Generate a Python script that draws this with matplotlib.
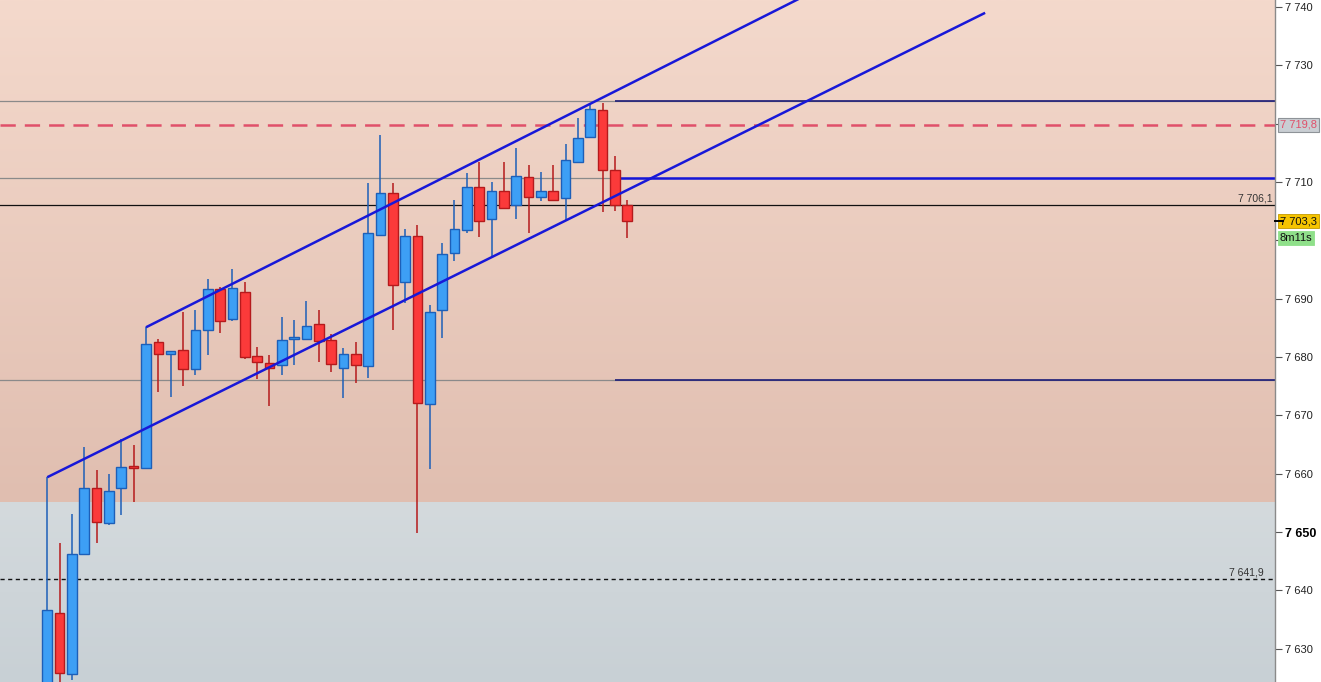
import matplotlib
matplotlib.use("Agg")
import matplotlib.pyplot as plt
import numpy as np
from matplotlib.colors import LinearSegmentedColormap

plt.rcParams['font.family'] = ['Liberation Sans', 'DejaVu Sans']
plt.rcParams['lines.scale_dashes'] = False

# ---- data (OHLC per bar) ----
opens  = [7622.0, 7636.2, 7625.7, 7646.2, 7657.6, 7651.5, 7657.5, 7661.4, 7660.9, 7682.5,
          7680.6, 7681.2, 7678.0, 7684.6, 7691.7, 7686.5, 7691.2, 7680.1, 7678.9, 7678.6,
          7683.1, 7683.1, 7685.7, 7683.0, 7678.2, 7680.6, 7678.5, 7701.0, 7708.2, 7692.9,
          7700.7, 7672.0, 7688.0, 7697.9, 7701.7, 7709.2, 7703.7, 7708.4, 7706.0, 7710.9,
          7707.5, 7708.5, 7707.2, 7713.5, 7717.8, 7722.4, 7712.1, 7706.1]
highs  = [7659.4, 7648.1, 7653.1, 7664.6, 7660.7, 7660.0, 7666.0, 7665.0, 7685.1, 7683.1,
          7681.1, 7687.7, 7688.1, 7693.4, 7692.0, 7695.1, 7692.8, 7681.7, 7680.3, 7686.9,
          7686.3, 7689.6, 7688.0, 7684.0, 7681.6, 7682.5, 7709.8, 7718.0, 7709.9, 7701.9,
          7702.7, 7689.0, 7699.5, 7707.0, 7711.5, 7713.5, 7710.0, 7713.4, 7715.8, 7713.0,
          7711.7, 7713.0, 7716.6, 7720.9, 7723.6, 7723.6, 7714.5, 7707.0]
lows   = [7619.0, 7620.0, 7624.6, 7646.2, 7648.2, 7651.2, 7653.0, 7655.2, 7660.9, 7674.0,
          7673.2, 7675.1, 7676.9, 7680.4, 7684.1, 7686.1, 7679.7, 7676.3, 7671.6, 7676.9,
          7678.7, 7683.1, 7679.2, 7677.4, 7672.9, 7675.6, 7676.4, 7701.0, 7684.6, 7689.3,
          7649.8, 7660.8, 7683.3, 7696.5, 7701.3, 7700.6, 7696.9, 7705.5, 7703.7, 7701.3,
          7706.8, 7706.8, 7703.4, 7713.5, 7717.8, 7704.9, 7705.1, 7700.4]
closes = [7636.6, 7625.8, 7646.2, 7657.6, 7651.7, 7657.1, 7661.2, 7661.0, 7682.3, 7680.6,
          7681.1, 7678.0, 7684.6, 7691.6, 7686.1, 7691.9, 7680.0, 7679.1, 7678.2, 7683.0,
          7683.4, 7685.4, 7682.8, 7678.8, 7680.6, 7678.6, 7701.2, 7708.2, 7692.4, 7700.7,
          7672.2, 7687.8, 7697.7, 7702.0, 7709.2, 7703.4, 7708.5, 7705.5, 7711.1, 7707.5,
          7708.4, 7706.9, 7713.7, 7717.6, 7722.6, 7712.1, 7706.1, 7703.3]

# channel trend lines (bar index, price)
channel_lower = [(0, 7659.4), (76, 7739.0)]
channel_upper = [(8, 7685.1), (61, 7741.5)]

# horizontal levels
gray_levels = [7723.9, 7710.7, 7676.0]
navy_levels = [7723.9, 7676.0]
blue_level = 7710.7
seg_start = 46
red_dash_level = 7719.8
prev_close_level = 7706.1
dotted_level = 7641.9
zone_boundary = 7655.0
last_price = 7703.3
timer_text = "8m11s"

yticks = list(range(7630, 7741, 10))
hidden_tick_labels = [7720, 7700]   # covered by the price boxes

def fmt(v, dec=False):
    if dec:
        s = f"{v:.1f}"
        ip, fp = s.split('.')
        ip = int(ip)
        return f"{ip // 1000} {ip % 1000:03d},{fp}"
    ip = int(round(v))
    return f"{ip // 1000} {ip % 1000:03d}"

# ---- figure ----
W, H = 1321, 682
fig = plt.figure(figsize=(W / 100, H / 100), dpi=100)
fig.patch.set_facecolor('white')
ax = fig.add_axes([0, 0, 1275 / W, 1])

xmin, xmax = -3.83, 99.49
ymin, ymax = 7624.3, 7741.2
ax.set_xlim(xmin, xmax)
ax.set_ylim(ymin, ymax)

# backgrounds (gradients)
peach = LinearSegmentedColormap.from_list('p', ['#e0beb0', '#f4d9cc'])
grayc = LinearSegmentedColormap.from_list('g', ['#c8d0d5', '#d4dadd'])
grad = np.linspace(0, 1, 256).reshape(-1, 1)
ax.imshow(grad, cmap=peach, origin='lower', aspect='auto',
          extent=[xmin, xmax, zone_boundary, ymax], zorder=0)
ax.imshow(grad, cmap=grayc, origin='lower', aspect='auto',
          extent=[xmin, xmax, ymin, zone_boundary], zorder=0)

# horizontal lines
for lv in gray_levels:
    ax.axhline(lv, color='#8a8a8a', lw=0.9, zorder=1)
ax.axhline(prev_close_level, color='#111111', lw=0.9, zorder=1)
ax.axhline(dotted_level, color='#111111', lw=1.0, ls=(0, (3, 2.5)), zorder=1)
ax.axhline(red_dash_level, color='#e0506a', lw=1.8, ls=(0, (11, 6.5)), zorder=1)
for lv in navy_levels:
    ax.hlines(lv, seg_start, xmax, color='#1c1c78', lw=1.2, zorder=2)
ax.hlines(blue_level, seg_start, xmax, color='#1515d8', lw=1.8, zorder=2)

# candles
x = np.arange(len(opens))
for i in range(len(opens)):
    o, h, l, c = opens[i], highs[i], lows[i], closes[i]
    up = c >= o
    face = '#3d9ff5' if up else '#fb3a3a'
    edge = '#1d5fb8' if up else '#b51a1c'
    ax.vlines(x[i], l, h, color=edge, lw=1.1, zorder=3)
    bot = min(o, c)
    hgt = max(abs(c - o), 0.25)
    ax.bar(x[i], hgt, bottom=bot, width=0.78, color=face, edgecolor=edge,
           linewidth=1.0, zorder=4)

# channel lines
for line in (channel_lower, channel_upper):
    xs = [p[0] for p in line]
    ys = [p[1] for p in line]
    ax.plot(xs, ys, color='#1818d8', lw=1.8, zorder=5, solid_capstyle='butt')

# axes styling
for s in ['top', 'left', 'bottom']:
    ax.spines[s].set_visible(False)
ax.spines['right'].set_color('#8a8a8a')
ax.spines['right'].set_linewidth(1.0)
ax.set_xticks([])
ax.yaxis.tick_right()
ax.set_yticks(yticks)
ax.set_yticklabels(['' if v in hidden_tick_labels else fmt(v) for v in yticks])
ax.tick_params(axis='y', length=5, width=0.8, color='#555555', labelsize=8,
               labelcolor='#222222', pad=2)
for lab, v in zip(ax.get_yticklabels(), yticks):
    if v == 7650:
        lab.set_fontweight('bold')
        lab.set_fontsize(9)
        lab.set_color('#000000')

ytr = ax.get_yaxis_transform()

# line labels inside plot
ax.annotate(fmt(prev_close_level, True), xy=(1, prev_close_level), xycoords=ytr,
            xytext=(-2, 1), textcoords='offset points', ha='right', va='bottom',
            fontsize=7.5, color='#333333', zorder=6)
ax.annotate(fmt(dotted_level, True), xy=(1, dotted_level), xycoords=ytr,
            xytext=(-8, 1), textcoords='offset points', ha='right', va='bottom',
            fontsize=7.5, color='#333333', zorder=6)

# price boxes on axis
ax.annotate(fmt(red_dash_level, True), xy=(1, red_dash_level), xycoords=ytr,
            xytext=(3.5, 0), textcoords='offset points', ha='left', va='center',
            fontsize=8, color='#e0506a', annotation_clip=False,
            bbox=dict(boxstyle='square,pad=0.18', fc='#c9ced3', ec='#8e9398', lw=0.8))
ax.annotate(fmt(last_price, True), xy=(1, last_price), xycoords=ytr,
            xytext=(3.5, 0), textcoords='offset points', ha='left', va='center',
            fontsize=8, color='#111111', annotation_clip=False,
            bbox=dict(boxstyle='square,pad=0.18', fc='#f5c400', ec='#c49a00', lw=0.6))
ax.annotate(timer_text, xy=(1, last_price), xycoords=ytr,
            xytext=(3.5, -12.5), textcoords='offset points', ha='left', va='center',
            fontsize=8, color='#111111', annotation_clip=False,
            bbox=dict(boxstyle='square,pad=0.18', fc='#8fe08a', ec='#8fe08a', lw=0.6))
ax.plot([1, 1.006], [last_price, last_price], transform=ytr, color='#000000',
        lw=1.4, clip_on=False, zorder=6)

fig.savefig('out.png', dpi=100, facecolor='white')
